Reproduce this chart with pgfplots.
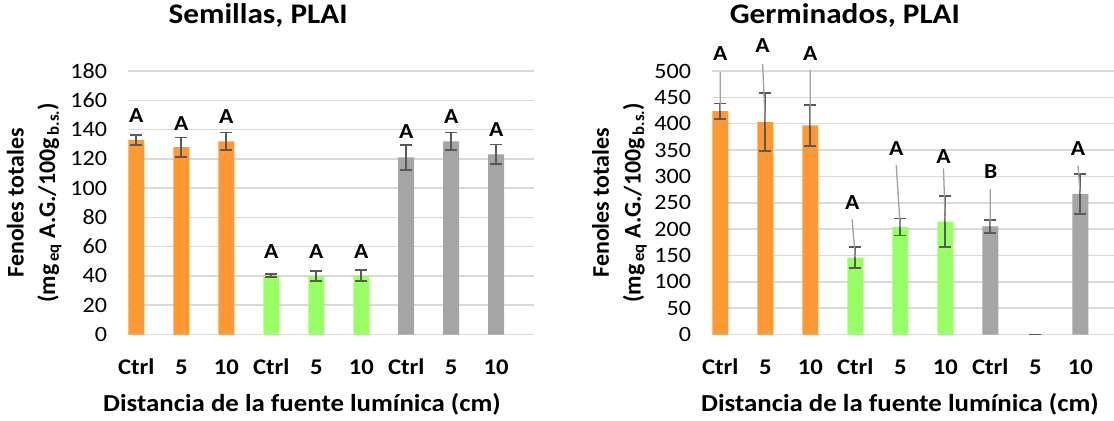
\documentclass[border=0pt]{standalone}
\usepackage{fontspec}
\setmainfont{Carlito}[FakeStretch=1.1]
\newfontfamily\vfont{Carlito}
\usepackage{pgfplots}
\pgfplotsset{compat=1.18}
\definecolor{orangeC}{HTML}{FF9933}
\definecolor{greenC}{HTML}{99FF66}
\definecolor{grayC}{HTML}{A5A5A5}
\definecolor{errC}{HTML}{595959}
\definecolor{gridC}{HTML}{D9D9D9}
\definecolor{leadC}{HTML}{A0A0A0}
\pgfplotsset{
 mybase/.style={
  scale only axis, clip=false,
  axis line style={draw=none},
  major tick length=0pt,
  tick style={draw=none},
  ymajorgrids, grid style={color=gridC, line width=1.5bp},
  ymin=0,
  xtick={0,...,8},
  xticklabels={Ctrl,5,10,Ctrl,5,10,Ctrl,5,10},
  /pgf/number format/assume math mode=true,
  yticklabel style={font=\fontsize{22}{22}\selectfont, anchor=east, inner sep=0pt, xshift=-21bp},
  xticklabel style={font=\bfseries\fontsize{22.5}{22.5}\selectfont, anchor=base, inner sep=0pt, yshift=-39.5bp},
  title style={anchor=base, inner sep=0pt, font=\bfseries\fontsize{28.5}{28.5}\selectfont},
  xlabel style={anchor=base, inner sep=0pt, font=\bfseries\fontsize{24.5}{24.5}\selectfont},
  ylabel style={anchor=center, inner sep=0pt, align=center, font=\vfont\bfseries\fontsize{24}{31.7}\selectfont},
  xlabel={Distancia de la fuente lumínica (cm)},
  ylabel={Fenoles totales\\(mg\textsubscript{\,eq} A.G./100g\textsubscript{\,b.s.})},
 },
 mybar/.style={ybar, bar width=16bp, bar shift=0pt, fill=#1, draw=none,
   error bars/.cd, y dir=both, y explicit,
   error bar style={line width=1.8bp, color=errC},
   error mark options={rotate=90, mark size=6bp, line width=1.8bp, color=errC}},
 mylab/.style={only marks, mark=none, nodes near coords, point meta=explicit symbolic,
   nodes near coords style={anchor=center, inner sep=0pt, font=\bfseries\fontsize{21.5}{21.5}\selectfont, text=black}},
}
\begin{document}
\begin{tikzpicture}
\useasboundingbox (0,0) rectangle (1114bp,-421bp);
% ---------------- Semillas
\begin{axis}[mybase, at={(128.3bp,-334.5bp)}, anchor=south west,
  width=405.7bp, height=263.5bp, xmin=-0.178, xmax=8.84,
  ymax=180, ytick={0,20,...,180},
  title={Semillas, PLAI}, title style={at={(0.32,1.158)}},
  xlabel style={at={(axis description cs:0.428,-0.294)}},
  ylabel style={at={(axis description cs:-0.232,0.5)}}]
\addplot[mybar=orangeC] table[x=x, y=y, y error=e, row sep=\\]{x y e\\ 0 133 3.5\\ 1 128 6.6\\ 2 132 6\\};
\addplot[mybar=greenC] table[x=x, y=y, y error=e, row sep=\\]{x y e\\ 3 40.5 1\\ 4 40 3.6\\ 5 40.3 3.9\\};
\addplot[mybar=grayC] table[x=x, y=y, y error=e, row sep=\\]{x y e\\ 6 121 8.4\\ 7 132 6\\ 8 123 6.8\\};
\addplot[mylab] table[x=x, y=y, meta=lab, row sep=\\]{x y lab\\ 0 149.3 A\\ 1 144.3 A\\ 2 148.8 A\\ 3 56.6 A\\ 4 56.6 A\\ 5 56.6 A\\ 6 138.5 A\\ 7 148.8 A\\ 8 139.7 A\\};
\end{axis}
% ---------------- Germinados
\begin{axis}[mybase, at={(712.3bp,-334.5bp)}, anchor=south west,
  width=401.7bp, height=263.5bp, xmin=-0.178, xmax=8.75,
  ymax=500, ytick={0,50,...,500},
  title={Germinados, PLAI}, title style={at={(0.33,1.158)}},
  xlabel style={at={(axis description cs:0.467,-0.294)}},
  ylabel style={at={(axis description cs:-0.231,0.5)}}]
\addplot[mybar=orangeC] table[x=x, y=y, y error=e, row sep=\\]{x y e\\ 0 424 14.5\\ 1 403 55\\ 2 397 38.6\\};
\addplot[mybar=greenC] table[x=x, y=y, y error=e, row sep=\\]{x y e\\ 3 146 19.4\\ 4 204 16\\ 5 214 48.7\\};
\addplot[mybar=grayC] table[x=x, y=y, y error=e, row sep=\\]{x y e\\ 6 205 12.3\\ 7 0 0\\ 8 267 37.6\\};
\addplot[no marks, color=leadC, line width=1.3bp, unbounded coords=jump] coordinates {
 (0,498.7) (0,424) (0,nan)
 (0.94,513.3) (1,403) (1,nan)
 (2,501.9) (2,397) (2,nan)
 (2.93,218.6) (3,146) (3,nan)
 (3.91,321.6) (4,204) (4,nan)
 (4.96,315.4) (5,214) (5,nan)
 (6.0,276.1) (6,205) (6,nan)
 (7.95,319.7) (8,267)
};
\addplot[mylab] table[x=x, y=y, meta=lab, row sep=\\]{x y lab\\ 0 533.6 A\\ 0.94 547.4 A\\ 2 533.6 A\\ 2.93 250.1 A\\ 3.91 353.3 A\\ 4.96 337.4 A\\ 6.01 310 B\\ 7.95 352 A\\};
\end{axis}
\end{tikzpicture}
\end{document}
